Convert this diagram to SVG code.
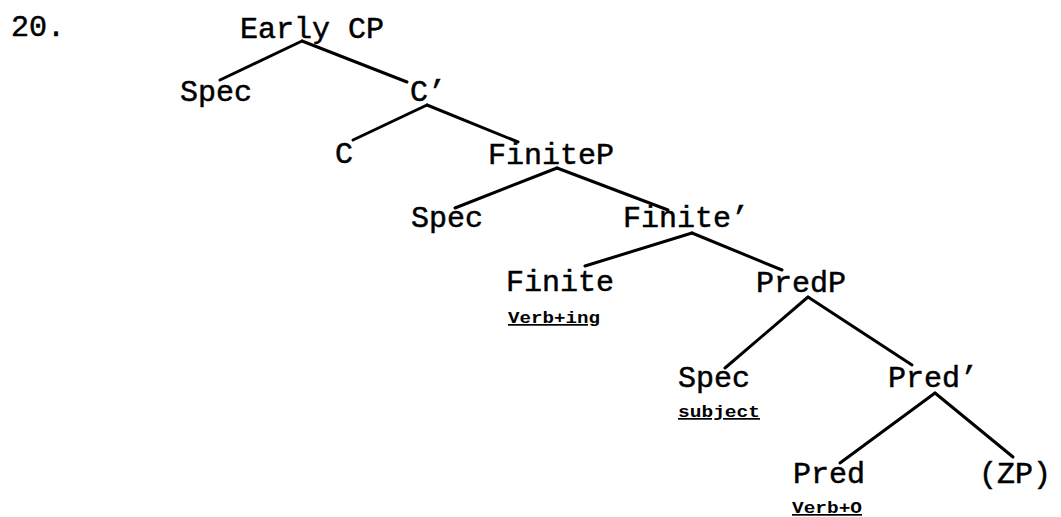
<svg xmlns="http://www.w3.org/2000/svg" width="1061" height="517" viewBox="0 0 1061 517">
  <style>
    .lbl { font-family: "Liberation Mono", "Courier New", monospace; font-size: 30px; fill: #000; stroke: #000; stroke-width: 0.5px; }
    .sub { font-family: "Liberation Mono", "Courier New", monospace; font-size: 17px; font-weight: bold; fill: #000; text-decoration: underline; }
    .edge { stroke: #000; stroke-width: 3; stroke-linecap: round; fill: none; }
  </style>
  <rect width="1061" height="517" fill="#fff"/>

  <!-- example number -->
  <text class="lbl" x="11" y="36">20.</text>

  <!-- tree branches -->
  <g id="connectors">
    <line class="edge" x1="302" y1="41" x2="220" y2="80"/>
    <line class="edge" x1="302" y1="41" x2="407" y2="82"/>
    <line class="edge" x1="427" y1="105" x2="353" y2="140"/>
    <line class="edge" x1="427" y1="105" x2="518" y2="142"/>
    <line class="edge" x1="557" y1="168" x2="455" y2="208"/>
    <line class="edge" x1="557" y1="168" x2="668" y2="210"/>
    <line class="edge" x1="692" y1="233" x2="585" y2="266"/>
    <line class="edge" x1="692" y1="233" x2="782" y2="270"/>
    <line class="edge" x1="808" y1="297" x2="725" y2="368"/>
    <line class="edge" x1="808" y1="297" x2="912" y2="365"/>
    <line class="edge" x1="935" y1="393" x2="840" y2="463"/>
    <line class="edge" x1="935" y1="393" x2="1013" y2="457"/>
  </g>

  <!-- tree nodes -->
  <g id="early-cp"><text class="lbl" x="240" y="38">Early CP</text></g>
  <g id="spec-cp"><text class="lbl" x="180" y="101">Spec</text></g>
  <g id="c-bar"><text class="lbl" x="410" y="101">C’</text></g>
  <g id="c-head"><text class="lbl" x="335" y="163">C</text></g>
  <g id="finite-p"><text class="lbl" x="488" y="164">FiniteP</text></g>
  <g id="spec-finite"><text class="lbl" x="411" y="227">Spec</text></g>
  <g id="finite-bar"><text class="lbl" x="623" y="227">Finite’</text></g>
  <g id="finite-head">
    <text class="lbl" x="506" y="291">Finite</text>
    <text class="sub" x="508" y="323" textLength="92" lengthAdjust="spacingAndGlyphs">Verb+ing</text>
  </g>
  <g id="pred-p"><text class="lbl" x="756" y="292">PredP</text></g>
  <g id="spec-pred">
    <text class="lbl" x="678" y="387">Spec</text>
    <text class="sub" x="678" y="417" textLength="82" lengthAdjust="spacingAndGlyphs">subject</text>
  </g>
  <g id="pred-bar"><text class="lbl" x="888" y="387">Pred’</text></g>
  <g id="pred-head">
    <text class="lbl" x="793" y="483">Pred</text>
    <text class="sub" x="792" y="513" textLength="70" lengthAdjust="spacingAndGlyphs">Verb+O</text>
  </g>
  <g id="zp"><text class="lbl" x="979" y="483">(ZP)</text></g>
</svg>
